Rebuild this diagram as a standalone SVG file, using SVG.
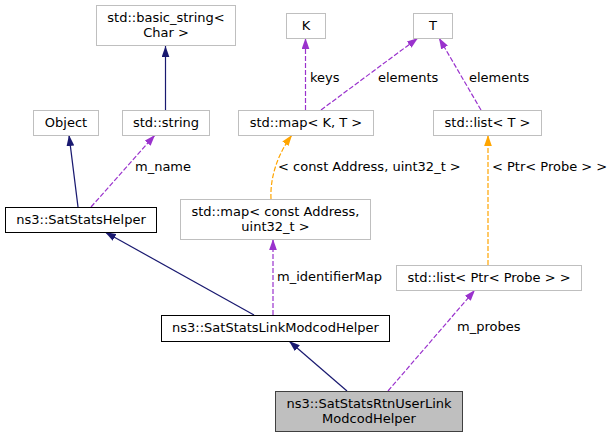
<svg xmlns="http://www.w3.org/2000/svg" width="613" height="437" viewBox="0 0 613 437">
<style>
text{font-family:"DejaVu Sans",sans-serif;font-size:13px;fill:#000}
.c{text-anchor:middle}
.ext{fill:#fff;stroke:#bfbfbf;stroke-width:1}
.doc{fill:#fff;stroke:#000;stroke-width:1}
.sel{fill:#bfbfbf;stroke:#404040;stroke-width:1}
.inh{fill:none;stroke:#191970;stroke-width:1.2}
.use{fill:none;stroke:#9a32cd;stroke-width:1.2;stroke-dasharray:5,2}
.tpl{fill:none;stroke:#ffa500;stroke-width:1.2;stroke-dasharray:5,2}
</style>
<defs>
<marker id="aInh" viewBox="0 0 10 7" refX="10" refY="3.5" markerWidth="11" markerHeight="8" markerUnits="userSpaceOnUse" orient="auto"><path d="M0,0 L10,3.5 L0,7 z" fill="#191970"/></marker>
<marker id="aUse" viewBox="0 0 10 7" refX="10" refY="3.5" markerWidth="11" markerHeight="8" markerUnits="userSpaceOnUse" orient="auto"><path d="M0,0 L10,3.5 L0,7 z" fill="#9a32cd"/></marker>
<marker id="aTpl" viewBox="0 0 10 7" refX="10" refY="3.5" markerWidth="11" markerHeight="8" markerUnits="userSpaceOnUse" orient="auto"><path d="M0,0 L10,3.5 L0,7 z" fill="#ffa500"/></marker>
</defs>
<g id="connectors">
<path class="inh" d="M165.5,110 L165.5,46" marker-end="url(#aInh)"/>
<path class="inh" d="M78,207 L69,135" marker-end="url(#aInh)"/>
<path class="use" d="M91,207 L155,135" marker-end="url(#aUse)"/>
<text x="135" y="171">m_name</text>
<path class="use" d="M305.5,110 L305.5,38" marker-end="url(#aUse)"/>
<text x="310" y="81.5">keys</text>
<path class="use" d="M321,110 L418,38" marker-end="url(#aUse)"/>
<text x="378" y="81.5">elements</text>
<path class="use" d="M481,110 L439,38" marker-end="url(#aUse)"/>
<text x="469" y="81.5">elements</text>
<path class="tpl" d="M271,199 C270,178 277,155 292,135" marker-end="url(#aTpl)"/>
<text x="278" y="171">&lt; const Address, uint32_t &gt;</text>
<path class="tpl" d="M488,265 L488,135" marker-end="url(#aTpl)"/>
<text x="492" y="171">&lt; Ptr&lt; Probe &gt; &gt;</text>
<path class="inh" d="M254,315 L105,232" marker-end="url(#aInh)"/>
<path class="use" d="M273,315 L273,239" marker-end="url(#aUse)"/>
<text x="277" y="281">m_identifierMap</text>
<path class="inh" d="M347,391 L289,341" marker-end="url(#aInh)"/>
<path class="use" d="M388,391 L475,290" marker-end="url(#aUse)"/>
<text x="457" y="331">m_probes</text>
</g>
<g id="node-basic_string"><rect class="ext" x="96.5" y="5.5" width="139" height="40"/><text class="c" x="166" y="22">std::basic_string&lt;</text><text class="c" x="166" y="37">Char &gt;</text></g>
<g id="node-Object"><rect class="ext" x="33.5" y="110.5" width="65" height="25"/><text class="c" x="66" y="126.5">Object</text></g>
<g id="node-string"><rect class="ext" x="122.5" y="110.5" width="87" height="25"/><text class="c" x="166" y="126.5">std::string</text></g>
<g id="node-K"><rect class="ext" x="286.5" y="13.5" width="39" height="25"/><text class="c" x="306" y="29.5">K</text></g>
<g id="node-T"><rect class="ext" x="413.5" y="13.5" width="39" height="25"/><text class="c" x="433" y="29.5">T</text></g>
<g id="node-mapKT"><rect class="ext" x="238.5" y="110.5" width="135" height="25"/><text class="c" x="306" y="126.5">std::map&lt; K, T &gt;</text></g>
<g id="node-listT"><rect class="ext" x="433.5" y="110.5" width="108" height="25"/><text class="c" x="487.5" y="126.5">std::list&lt; T &gt;</text></g>
<g id="node-SatStatsHelper"><rect class="doc" x="5.5" y="207.5" width="151" height="25"/><text class="c" x="81" y="223.5">ns3::SatStatsHelper</text></g>
<g id="node-mapAddr"><rect class="ext" x="180.5" y="199.5" width="190" height="40"/><text class="c" x="275.5" y="216">std::map&lt; const Address,</text><text class="c" x="275.5" y="231">uint32_t &gt;</text></g>
<g id="node-listProbe"><rect class="ext" x="396.5" y="265.5" width="185" height="25"/><text class="c" x="489" y="281.5">std::list&lt; Ptr&lt; Probe &gt; &gt;</text></g>
<g id="node-LinkModcod"><rect class="doc" x="161.5" y="315.5" width="228" height="26"/><text class="c" x="275.5" y="332">ns3::SatStatsLinkModcodHelper</text></g>
<g id="node-RtnUserLink"><rect class="sel" x="275.5" y="391.5" width="187" height="40"/><text class="c" x="369" y="408">ns3::SatStatsRtnUserLink</text><text class="c" x="369" y="423">ModcodHelper</text></g>
</svg>
